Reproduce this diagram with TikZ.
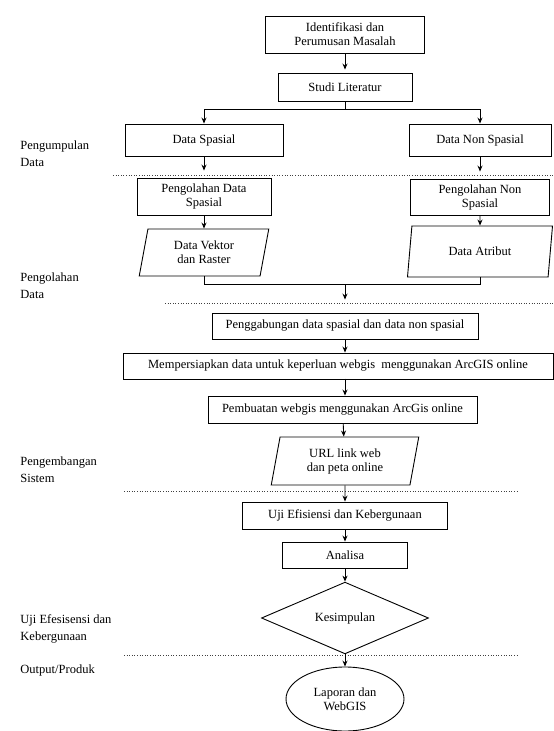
\documentclass[tikz,border=0pt]{standalone}
\usepackage{fontspec}
\setmainfont{Liberation Serif}
\usetikzlibrary{shapes.geometric,arrows.meta}
\begin{document}
\begin{tikzpicture}[x=1pt,y=-1pt,line width=.9pt,
  >={Stealth[length=6pt,width=5pt]},
  caja/.style={draw,rectangle,align=center,inner sep=2pt,
    font=\fontsize{12.5}{14}\selectfont},
  datos/.style={draw,trapezium,trapezium left angle=79,
    trapezium right angle=101,trapezium stretches=true,
    align=center,inner sep=1pt,font=\fontsize{12.5}{14}\selectfont},
  etapa/.style={anchor=west,align=left,inner sep=0pt,
    font=\fontsize{12.5}{17}\selectfont},
  sep/.style={dotted,line width=.6pt,color=black!75}]
\useasboundingbox (0,0) rectangle (554,731);
%
% etapas
\node[etapa] (etapa1) at (20,154) {Pengumpulan\\Data};
\node[etapa] (etapa2) at (20,286) {Pengolahan\\Data};
\node[etapa] (etapa3) at (20,470) {Pengembangan\\Sistem};
\node[etapa] (etapa4) at (20,629) {Uji Efesisensi dan\\Kebergunaan};
\node[etapa] (etapa5) at (20,670) {Output/Produk};
%
% separadores
\draw[sep] (113,175) -- (554,175);
\draw[sep] (165,303) -- (554,303);
\draw[sep] (124,491) -- (518,491);
\draw[sep] (124,655) -- (518,655);
%
% cajas
\node[caja,minimum width=159,minimum height=37] (iden) at (345,34.5)
  {Identifikasi dan\\Perumusan Masalah};
\node[caja,minimum width=134,minimum height=28] (studi) at (345,87)
  {Studi Literatur};
\node[caja,minimum width=158,minimum height=32] (dspasial) at (204,140)
  {Data Spasial};
\node[caja,minimum width=142,minimum height=32] (dnon) at (480,140)
  {Data Non Spasial};
\node[caja,minimum width=134,minimum height=37] (pds) at (204,196.5)
  {Pengolahan Data\\Spasial};
\node[caja,minimum width=139,minimum height=36] (pns) at (480,197)
  {Pengolahan Non\\Spasial};
\node[datos,minimum width=130,minimum height=47] (vektor) at (204,252.5)
  {Data Vektor\\dan Raster};
\node[datos,minimum width=146,minimum height=51] (atribut) at (480,251.5)
  {Data Atribut};
\node[caja,minimum width=266,minimum height=26] (gabung) at (345,326)
  {Penggabungan data spasial dan data non spasial};
\node[caja,minimum width=430,minimum height=26] (siap) at (338,366)
  {Mempersiapkan data untuk keperluan webgis\ \ menggunakan ArcGIS online};
\node[caja,minimum width=269,minimum height=27] (buat) at (342.5,409.5)
  {Pembuatan webgis menggunakan ArcGis online};
\node[datos,minimum width=148,minimum height=48] (url) at (345,461)
  {URL link web\\dan peta online};
\node[caja,minimum width=205,minimum height=27] (uji) at (345,515.5)
  {Uji Efisiensi dan Kebergunaan};
\node[caja,minimum width=125,minimum height=26] (analisa) at (345,555)
  {Analisa};
\node[draw,diamond,minimum width=167,minimum height=62,inner sep=0pt,
  font=\fontsize{12.5}{14}\selectfont] (kesimpulan) at (345,618) {Kesimpulan};
\node[draw,ellipse,minimum width=118,minimum height=64,inner sep=0pt,
  align=center,font=\fontsize{12.5}{14}\selectfont] (laporan) at (345,699)
  {Laporan dan\\WebGIS};
%
% flechas
\draw[->,shorten >=3pt] (iden) -- (studi);
\draw (studi.south) -- ++(0,8) coordinate (rama);
\draw[->] (rama) -| (dspasial);
\draw[->] (rama) -| (dnon);
\draw[->,shorten >=7pt] (dspasial) -- (pds);
\draw[->,shorten >=7pt] (dnon) -- (pns);
\draw[->] (pds) -- (vektor);
\draw[->] (pns) -- (atribut);
\draw (vektor.south) -- ++(0,8) coordinate (union) -| (atribut.south);
\draw[->,shorten >=13pt] (gabung.north |- union) -- (gabung);
\draw[->] (gabung.south) -- (gabung.south |- siap.north);
\draw[->] (buat.north -| gabung.south) ++(0,-17) -- (buat.north -| gabung.south);
\draw[->] (buat) -- (url);
\draw[->] (url) -- (uji);
\draw[->] (uji) -- (analisa);
\draw[->] (analisa) -- (kesimpulan);
\draw[->] (kesimpulan) -- (laporan);
\end{tikzpicture}
\end{document}
